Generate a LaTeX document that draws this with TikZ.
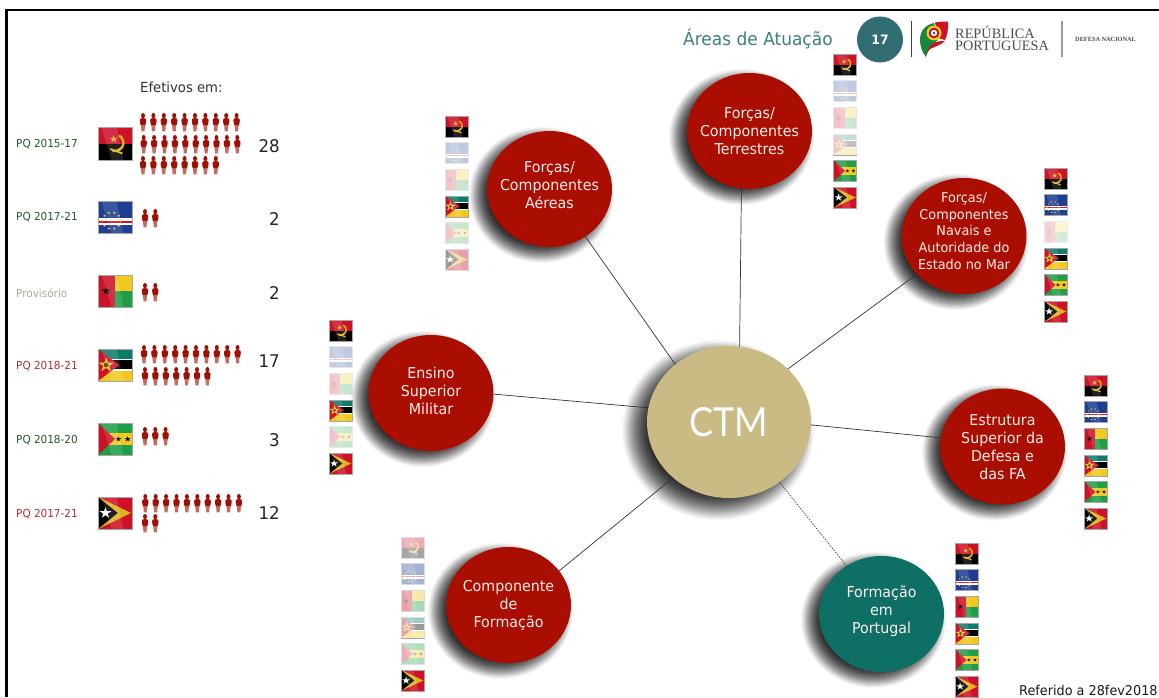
\documentclass[tikz,border=0pt]{standalone}
\usepackage{fontspec}
\setmainfont[FakeStretch=0.95]{DejaVu Sans}
\newfontfamily\ctmfont[FakeStretch=0.9]{Lato}
\newfontfamily\logofont{Liberation Serif}
\usetikzlibrary{shapes.geometric,calc}
\definecolor{cred}{HTML}{AA0E00}
\definecolor{cteal}{HTML}{0E7065}
\definecolor{ctan}{HTML}{CABB84}
\definecolor{cdisc}{HTML}{2F6D73}
\definecolor{ctitle}{HTML}{3A7F86}
\definecolor{pq}{HTML}{1F5A2A}
\definecolor{pqred}{HTML}{B0302E}
\definecolor{pqgrey}{HTML}{A8AB94}
\definecolor{man}{HTML}{A01005}
\definecolor{fyel}{HTML}{F2C81E}
\definecolor{fgold}{HTML}{E2B21C}
\definecolor{fred}{HTML}{CE1126}
\definecolor{fgreen}{HTML}{1E9E45}
\definecolor{fblue}{HTML}{1C3F94}
\definecolor{fmoz}{HTML}{0E7C6B}
\tikzset{
  area/.style={ellipse,fill=cred,minimum width=125pt,minimum height=116pt,inner sep=0pt,outer sep=0pt,text=white!93!red,font=\fontsize{15}{18}\selectfont,align=center},
  areatl/.style={area,fill=cteal},
  link/.style={draw=black!80,line width=0.7pt},
  pqlabel/.style={anchor=west,inner sep=0pt,font=\fontsize{11}{12}\selectfont},
  count/.style={anchor=east,inner sep=0pt,text=black!85,font=\fontsize{17.5}{20}\selectfont},
}
\newcommand{\lifted}[2]{\makebox[0pt][c]{\raisebox{\dimexpr#1pt-0.38em\relax}[0pt][0pt]{\begin{tabular}[c]{@{}c@{}}#2\end{tabular}}}}
\newcommand{\softshadow}[6]{% cx cy rx ry dx spread
  \foreach \k in {0,...,39}{
    \pgfmathsetmacro{\dr}{#6-2*#6*(\k/39)^0.8}
    \fill[black,opacity=0.04] (#1-#5,#2+#5*0.75) ellipse [x radius={#3+\dr},y radius={#4+\dr}];
  }}
\newcommand{\fstar}[4]{\fill[#4,shift={(#1,#2)}] (270:#3) -- (126:#3) -- (342:#3) -- (198:#3) -- (54:#3) -- cycle;}
\newcommand{\FA}{%
  \fill[fred] (0,0) rectangle (1,.5); \fill[black] (0,.5) rectangle (1,1);
  \draw[fgold,line width=\fw*0.07pt] (.62,.24) .. controls (.86,.42) and (.74,.76) .. (.42,.72);
  \draw[fgold,line width=\fw*0.05pt] (.36,.66) -- (.72,.8);
  \fstar{.46}{.36}{.12}{fgold}}
\newcommand{\FC}{%
  \fill[fblue] (0,0) rectangle (1,1); \fill[white] (0,.52) rectangle (1,.74); \fill[fred] (0,.6) rectangle (1,.66);
  \foreach \a in {0,36,...,324}{\fill[fyel] ($(.4,.6)+(\a:.26)$) circle [radius=.035];}}
\newcommand{\FG}{%
  \fill[fgreen] (0,0) rectangle (1,1); \fill[fyel] (.49,0) rectangle (1,.5); \fill[fred] (0,0) rectangle (.49,1);
  \fstar{.24}{.5}{.13}{black}}
\newcommand{\FM}{%
  \fill[white] (0,0) rectangle (1,1); \fill[fmoz] (0,0) rectangle (1,.3); \fill[black] (0,.35) rectangle (1,.63); \fill[fyel] (0,.68) rectangle (1,1);
  \fill[fred] (0,0) -- (.62,.5) -- (0,1) -- cycle;
  \fstar{.24}{.5}{.24}{fyel}\fill[black!70] (.24,.5) circle [radius=.07];}
\newcommand{\FS}{%
  \fill[fgreen] (0,0) rectangle (1,1); \fill[fyel] (0,.3) rectangle (1,.7);
  \fill[fred] (0,0) -- (.5,.5) -- (0,1) -- cycle;
  \fstar{.6}{.5}{.09}{black}\fstar{.87}{.5}{.09}{black}}
\newcommand{\FT}{%
  \fill[fred] (0,0) rectangle (1,1); \fill[fgold] (0,0) -- (.97,.5) -- (0,1) -- cycle;
  \fill[black] (0,0) -- (.58,.5) -- (0,1) -- cycle; \fstar{.22}{.5}{.18}{white}}
\newcommand{\flagbox}[6]{\begin{scope}[shift={({#2},{#3})},x=#4pt,y=-#5pt]\def\fw{#4}
  #1
  \fill[white,opacity=.13] (.1,0) -- (.55,0) -- (.75,1) -- (.4,1) -- cycle;
  \draw[black!35,line width=.5pt] (0,0) rectangle (1,1);
  \fill[white,opacity=#6] (-.03,-.03) rectangle (1.03,1.03);
\end{scope}}
\newcommand{\colflags}[8]{% x, then fades
  \def\cx{#1}
  \flagbox{\FA}{\cx}{#2}{23}{21}{#3}
  \flagbox{\FC}{\cx}{#2+26.6}{23}{21}{#4}
  \flagbox{\FG}{\cx}{#2+53.2}{23}{21}{#5}
  \flagbox{\FM}{\cx}{#2+79.8}{23}{21}{#6}
  \flagbox{\FS}{\cx}{#2+106.4}{23}{21}{#7}
  \flagbox{\FT}{\cx}{#2+133}{23}{21}{#8}}
\newcommand{\pers}[2]{\begin{scope}[shift={({#1},{#2})}]
  \fill[man] (3.5,2.6) ellipse [x radius=2,y radius=2.6];
  \fill[man] (3.5,5) .. controls (5.5,5) and (6.7,5.6) .. (6.7,7) .. controls (6.7,9) and (6.4,11) .. (5.6,12.5) -- (1.4,12.5) .. controls (.6,11) and (.3,9) .. (.3,7) .. controls (.3,5.6) and (1.5,5) .. (3.5,5) -- cycle;
  \fill[man!62!white] (1.5,12.5) -- (5.5,12.5) -- (5,18.4) -- (2,18.4) -- cycle;
\end{scope}}
\newcommand{\persrow}[4]{\foreach \i in {1,...,#4}{\pers{#1-3.5+(\i-1)*#2}{#3}}}
\begin{document}
\begin{tikzpicture}[x=1pt,y=-1pt]
\useasboundingbox (0,0) rectangle (1159,697);
\fill[white] (0,0) rectangle (1159,697);
\draw[black,line width=2.2pt] (6.5,697) -- (6.5,10) -- (1159,10);
% header
\node[anchor=west,inner sep=0pt,text=ctitle,font=\fontsize{17.9}{20}\selectfont] (title) at (683,39) {Áreas de Atuação};
\node[circle,fill=cdisc,minimum size=46pt,inner sep=0pt,text=white,font=\fontsize{13}{15}\selectfont\bfseries] (page) at (880,39.5) {17};
\draw[black!30!blue!60!gray,line width=.9pt] (911,21) -- (911,57);
\draw[black!40,line width=1.2pt] (1062,21) -- (1062,57);
% logo
\fill[fgreen!85!black] (920,40) .. controls (920,31) and (925,25) .. (934,23) -- (938,40) .. controls (932,44) and (928,50) .. (926,57) .. controls (922,52) and (920,46) .. (920,40) -- cycle;
\fill[fred] (935,22.5) .. controls (940,21.5) and (945,21.5) .. (948,21.5) .. controls (948.5,30) and (947,36) .. (945,40) -- (938,38) -- cycle;
\fill[fred] (945,41) .. controls (941,45) and (934,47) .. (930,49) .. controls (927,51) and (926,54) .. (925.5,58) .. controls (926,50) and (930,45) .. (936,42) .. controls (939,41) and (942,41) .. (945,41) -- cycle;
\fill[fyel] (934,33) circle [radius=7.5];
\fill[fred!90!black] (934,33) circle [radius=5.3];
\fill[white] (934,33) circle [radius=3.2];
\fill[fblue] (934,33) circle [radius=1.4];
\node[anchor=west,inner sep=0pt,text=black!70,font=\logofont\fontsize{14.3}{12}\selectfont,align=left] (rep) at (955,38) {REPÚBLICA\\PORTUGUESA};
\node[anchor=west,inner sep=0pt,text=black!70,font=\logofont\bfseries\fontsize{6.3}{7}\selectfont] (dn) at (1075,39) {DEFESA NACIONAL};
% left table
\node[anchor=west,inner sep=0pt,text=black!80,font=\fontsize{13.9}{16}\selectfont] (ef) at (140,87) {Efetivos em:};
\node[pqlabel,text=pq] (l1) at (16,144) {PQ 2015-17};
\node[pqlabel,text=pq] (l2) at (16,217.5) {PQ 2017-21};
\node[pqlabel,text=pqgrey] (l3) at (16,293) {Provisório};
\node[pqlabel,text=pqred] (l4) at (16,366) {PQ 2018-21};
\node[pqlabel,text=pq] (l5) at (16,440) {PQ 2018-20};
\node[pqlabel,text=pqred] (l6) at (16,514) {PQ 2017-21};
\flagbox{\FA}{98}{127.5}{34}{32.5}{0}
\flagbox{\FC}{98}{201.5}{34}{32}{0}
\flagbox{\FG}{98}{275}{34}{32}{0}
\flagbox{\FM}{98}{349}{34}{32}{0}
\flagbox{\FS}{98}{423}{34}{32}{0}
\flagbox{\FT}{98}{497}{34}{32}{0}
\persrow{143}{10.4}{113}{10}
\persrow{143.7}{10.4}{135}{10}
\persrow{143}{10.4}{156}{8}
\persrow{145}{10.3}{209}{2}
\persrow{145}{10.3}{283}{2}
\persrow{144}{10.4}{345}{10}
\persrow{145}{10.4}{367}{7}
\persrow{145}{10.3}{427}{3}
\persrow{145.3}{10.4}{494}{10}
\persrow{145}{10.3}{514}{2}
\node[count] (n1) at (280,146) {28};
\node[count] (n2) at (280,219) {2};
\node[count] (n3) at (280,293) {2};
\node[count] (n4) at (280,361) {17};
\node[count] (n5) at (280,440) {3};
\node[count] (n6) at (280,513) {12};
% flag columns
\colflags{329}{320}{0}{.72}{.75}{0}{.75}{0}
\colflags{445}{116}{0}{.72}{.75}{0}{.75}{.6}
\colflags{833.5}{54}{0}{.72}{.75}{.75}{0}{0}
\colflags{1044}{168}{0}{0}{.8}{0}{0}{0}
\colflags{1084}{375}{0}{0}{0}{0}{0}{0}
\colflags{955}{543}{0}{0}{0}{0}{0}{0}
\colflags{401}{537}{.65}{.6}{.6}{.6}{.65}{0}
% shadows
\softshadow{729}{422}{82}{76}{11}{14}
\softshadow{549.5}{189}{62.5}{58}{8}{10}
\softshadow{749.5}{131}{62.5}{58}{8}{10}
\softshadow{964}{236}{62.5}{58}{8}{10}
\softshadow{431}{393}{62}{58}{8}{10}
\softshadow{1002.5}{446.5}{62.5}{58}{8}{10}
\softshadow{508.5}{605}{62.5}{58}{8}{10}
\softshadow{881.5}{614}{62.5}{58}{8}{10}
% nodes
\node[ellipse,fill=ctan,minimum width=164pt,minimum height=152pt,inner sep=0pt,outer sep=0pt,text=white,font=\ctmfont\fontsize{40}{42}\selectfont] (ctm) at (729,422) {CTM};
\node[area] (aereas) at (549.5,189) {\lifted{4}{Forças/\\Componentes\\Aéreas}};
\node[area] (terr) at (749.5,131) {\lifted{0}{Forças/\\Componentes\\Terrestres}};
\node[area,font=\fontsize{13.5}{16.9}\selectfont] (nav) at (964,236) {\lifted{5}{Forças/\\Componentes\\Navais e\\Autoridade do\\Estado no Mar}};
\node[area] (ens) at (431,393) {\lifted{2}{Ensino\\Superior\\Militar}};
\node[area] (est) at (1002.5,446.5) {\lifted{0}{Estrutura\\Superior da\\Defesa e\\das FA}};
\node[area] (comp) at (508.5,605) {\lifted{1}{Componente\\de\\Formação}};
\node[areatl] (form) at (881.5,614) {\lifted{4}{Formação\\em\\Portugal}};
% connectors
\draw[link] (ctm.133) -- (aereas.-53.5);
\draw[link] (ctm.82) -- (terr.262.6);
\draw[link] (ctm.42) -- (nav.219.7);
\draw[link] (ctm.170.3) -- (ens.-1);
\draw[link] (ctm.-2.8) -- (est.172);
\draw[link] (ctm.225.5) -- (comp.34.2);
\draw[link,dash pattern=on 1.4pt off 1.4pt] (ctm.-50.2) -- (form.126.7);
\node[anchor=west,inner sep=0pt,text=black!90,font=\fontsize{13.5}{15}\selectfont] (ref) at (1019,690.5) {Referido a 28fev2018};
\end{tikzpicture}
\end{document}
